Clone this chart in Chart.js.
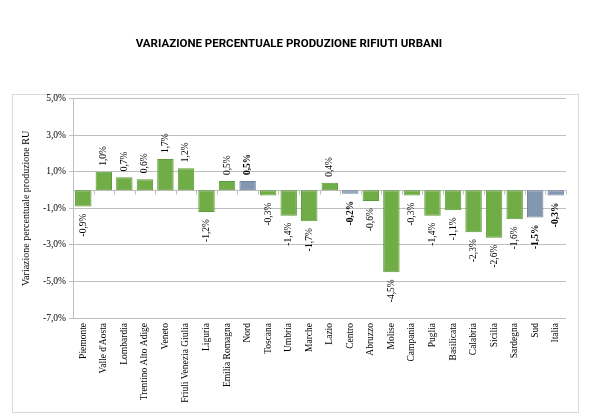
<!DOCTYPE html>
<html><head><meta charset="utf-8">
<script src="https://cdn.jsdelivr.net/npm/chart.js@4/dist/chart.umd.min.js"></script>
<style>html,body{margin:0;padding:0;background:#fff}#wrap{width:600px;height:420px;position:relative}</style>
</head><body><div id="wrap"><canvas id="c" width="600" height="420"></canvas></div>
<script>
const categories = ["Piemonte","Valle d'Aosta","Lombardia","Trentino Alto Adige","Veneto","Friuli Venezia Giulia","Liguria","Emilia Romagna","Nord","Toscana","Umbria","Marche","Lazio","Centro","Abruzzo","Molise","Campania","Puglia","Basilicata","Calabria","Sicilia","Sardegna","Sud","Italia"];
const values = [-0.9,1.0,0.7,0.6,1.7,1.2,-1.2,0.5,0.5,-0.3,-1.4,-1.7,0.4,-0.2,-0.6,-4.5,-0.3,-1.4,-1.1,-2.3,-2.6,-1.6,-1.5,-0.3];
const aggregates = ["Nord","Centro","Sud","Italia"];
const yTicks = [-7,-5,-3,-1,1,3,5];
const titleText = "VARIAZIONE PERCENTUALE PRODUZIONE RIFIUTI URBANI";
const yTitle = "Variazione percentuale produzione RU";

const isAgg = categories.map(c => aggregates.includes(c));
const fmt = v => v.toFixed(1).replace('.', ',') + '%';
const SERIF = '"Liberation Serif", "Times New Roman", serif';

const frame = {
  id: 'frame',
  beforeDraw(chart) {
    const ctx = chart.ctx;
    ctx.save();
    ctx.fillStyle = '#fff';
    ctx.fillRect(0, 0, chart.width, chart.height);
    ctx.strokeStyle = '#d9d9d9';
    ctx.lineWidth = 1;
    ctx.strokeRect(12.5, 94.5, 566, 318);
    ctx.restore();
  },
  beforeDatasetsDraw(chart) {
    const ctx = chart.ctx, y = chart.scales.y;
    const y0 = Math.round(y.getPixelForValue(0)) + 0.5;
    ctx.save();
    ctx.strokeStyle = '#bfbfbf';
    ctx.lineWidth = 1;
    ctx.beginPath();
    ctx.moveTo(chart.chartArea.left, y0);
    ctx.lineTo(chart.chartArea.right, y0);
    const n = categories.length;
    for (let i = 0; i <= n; i++) {
      const px = Math.round(chart.chartArea.left + (chart.chartArea.right - chart.chartArea.left) * i / n) + 0.5;
      ctx.moveTo(px, y0);
      ctx.lineTo(px, y0 + 4);
    }
    ctx.stroke();
    ctx.restore();
  },
  afterDatasetsDraw(chart) {
    const ctx = chart.ctx;
    const meta = chart.getDatasetMeta(0);
    ctx.save();
    ctx.fillStyle = '#000';
    ctx.textBaseline = 'middle';
    meta.data.forEach((bar, i) => {
      const v = values[i];
      ctx.font = (isAgg[i] ? 'bold ' : '') + '9.5px ' + SERIF;
      ctx.save();
      if (v >= 0) {
        ctx.translate(bar.x, bar.y - 6);
        ctx.rotate(-Math.PI / 2);
        ctx.textAlign = 'left';
      } else {
        ctx.translate(bar.x, bar.y + 7);
        ctx.rotate(-Math.PI / 2);
        ctx.textAlign = 'right';
      }
      ctx.fillText(fmt(v), 0, 0);
      ctx.restore();
    });
    ctx.restore();
  }
};

new Chart(document.getElementById('c'), {
  type: 'bar',
  data: {
    labels: categories,
    datasets: [{
      data: values,
      backgroundColor: isAgg.map(a => a ? '#8497B0' : '#70AD47'),
      borderColor: isAgg.map(a => a ? '#6F83A0' : '#5E9B38'),
      borderWidth: 1,
      borderSkipped: false,
      barPercentage: 0.8,
      categoryPercentage: 1.0
    }]
  },
  options: {
    responsive: false,
    animation: false,
    devicePixelRatio: 1,
    layout: { padding: { left: 12, right: 34, bottom: 0, top: 0 } },
    plugins: {
      legend: { display: false },
      tooltip: { enabled: false },
      title: {
        display: true,
        text: titleText,
        color: '#000',
        font: { family: 'Roboto', weight: 'bold', size: 11.5 },
        padding: { top: 37, bottom: 48 }
      }
    },
    scales: {
      x: {
        grid: { display: false, drawTicks: false },
        border: { display: false },
        ticks: {
          autoSkip: false, maxRotation: 90, minRotation: 90,
          color: '#000', padding: 5,
          font: { family: SERIF, size: 9.5 }
        },
        afterFit(s) { s.height = 102; }
      },
      y: {
        min: -7, max: 5,
        afterBuildTicks(s) { s.ticks = yTicks.map(v => ({ value: v })); },
        grid: { color: '#bfbfbf', tickLength: 4, drawTicks: true },
        border: { display: true, color: '#bfbfbf' },
        ticks: {
          color: '#000', padding: 3,
          font: { family: SERIF, size: 9.5 },
          callback: v => fmt(v)
        },
        title: {
          display: true, text: yTitle, color: '#000',
          font: { family: SERIF, size: 10 }, padding: { top: 8, bottom: 4 }
        },
        afterFit(s) { s.width = 61; }
      }
    }
  },
  plugins: [frame]
});
</script></body></html>
